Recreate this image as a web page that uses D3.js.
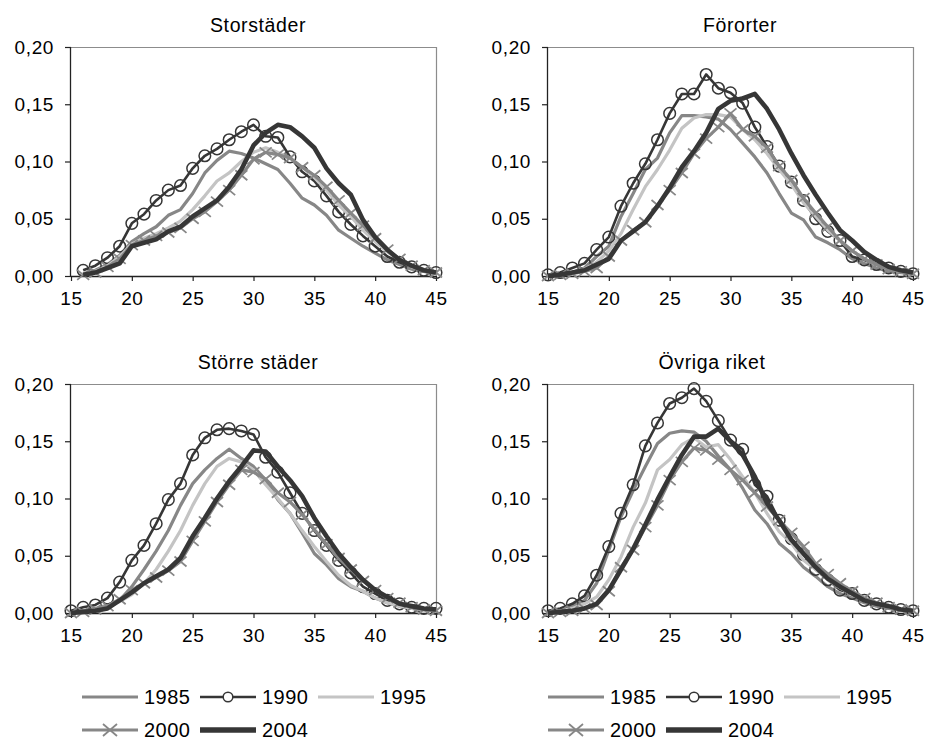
<!DOCTYPE html>
<html><head><meta charset="utf-8">
<script src="https://cdn.jsdelivr.net/npm/d3@7/dist/d3.min.js"></script>
<style>
body{margin:0;background:#fff;}
text{font-family:"Liberation Sans",Arial,sans-serif;fill:#000;}
</style>
</head><body>
<svg id="chart" width="925" height="740"></svg>
<script>
// ---------- DATA ----------
const ages = [15,16,17,18,19,20,21,22,23,24,25,26,27,28,29,30,31,32,33,34,35,36,37,38,39,40,41,42,43,44,45];
const years = ["1985","1990","1995","2000","2004"];
const panelTitles = ["Storstäder","Förorter","Större städer","Övriga riket"];
const xTicks = [15,20,25,30,35,40,45];
const yTicks = [0,0.05,0.10,0.15,0.20];

// Storstäder (no value at 15)
const sto1985 = [null,0.002,0.005,0.010,0.018,0.030,0.037,0.043,0.053,0.058,0.072,0.090,0.101,0.109,0.107,0.103,0.098,0.093,0.081,0.068,0.062,0.053,0.040,0.033,0.026,0.020,0.014,0.010,0.006,0.004,0.002];
const sto1990 = [null,0.005,0.009,0.016,0.026,0.046,0.054,0.066,0.075,0.079,0.094,0.105,0.111,0.119,0.126,0.132,0.122,0.121,0.104,0.091,0.083,0.070,0.056,0.045,0.035,0.026,0.017,0.012,0.008,0.005,0.003];
const sto1995 = [null,0.002,0.004,0.009,0.017,0.028,0.033,0.037,0.042,0.048,0.058,0.070,0.083,0.090,0.100,0.108,0.112,0.108,0.103,0.095,0.086,0.075,0.062,0.052,0.040,0.030,0.021,0.014,0.008,0.005,0.003];
const sto2000 = [null,0.001,0.003,0.008,0.015,0.027,0.031,0.035,0.038,0.042,0.050,0.056,0.065,0.075,0.088,0.102,0.108,0.106,0.103,0.095,0.088,0.078,0.066,0.055,0.044,0.033,0.023,0.015,0.009,0.005,0.003];
const sto2004 = [null,0.001,0.003,0.007,0.011,0.026,0.029,0.032,0.039,0.043,0.052,0.059,0.066,0.078,0.093,0.114,0.125,0.132,0.130,0.122,0.112,0.094,0.081,0.071,0.049,0.034,0.023,0.014,0.009,0.005,0.003];

// Förorter
const for1985 = [0.000,0.001,0.003,0.007,0.017,0.026,0.052,0.072,0.093,0.103,0.125,0.140,0.140,0.139,0.137,0.128,0.116,0.104,0.090,0.072,0.055,0.049,0.034,0.029,0.023,0.015,0.011,0.007,0.004,0.003,0.002];
const for1990 = [0.001,0.003,0.007,0.011,0.023,0.034,0.061,0.081,0.098,0.119,0.142,0.159,0.159,0.176,0.164,0.160,0.151,0.130,0.113,0.096,0.082,0.066,0.050,0.039,0.031,0.017,0.014,0.010,0.007,0.004,0.002];
const for1995 = [0.000,0.001,0.003,0.006,0.012,0.022,0.037,0.058,0.078,0.093,0.110,0.129,0.138,0.141,0.141,0.139,0.128,0.119,0.107,0.093,0.080,0.064,0.052,0.040,0.031,0.022,0.015,0.010,0.006,0.004,0.002];
const for2000 = [0.000,0.001,0.002,0.004,0.007,0.017,0.031,0.040,0.047,0.062,0.075,0.090,0.107,0.120,0.130,0.142,0.128,0.122,0.112,0.096,0.084,0.068,0.055,0.043,0.031,0.022,0.015,0.010,0.006,0.004,0.002];
const for2004 = [0.000,0.001,0.003,0.005,0.010,0.015,0.031,0.039,0.047,0.061,0.077,0.095,0.109,0.125,0.146,0.153,0.155,0.159,0.146,0.128,0.107,0.088,0.071,0.055,0.040,0.031,0.021,0.014,0.008,0.005,0.003];

// Större städer
const sst1985 = [0.001,0.002,0.004,0.007,0.011,0.023,0.038,0.054,0.072,0.094,0.113,0.125,0.135,0.143,0.135,0.128,0.116,0.099,0.087,0.070,0.052,0.042,0.030,0.023,0.019,0.013,0.009,0.006,0.004,0.003,0.002];
const sst1990 = [0.002,0.005,0.007,0.013,0.027,0.046,0.059,0.078,0.099,0.113,0.138,0.153,0.160,0.161,0.159,0.156,0.136,0.123,0.105,0.087,0.072,0.059,0.046,0.035,0.023,0.017,0.011,0.008,0.005,0.004,0.004];
const sst1995 = [0.000,0.001,0.003,0.006,0.010,0.016,0.026,0.038,0.054,0.072,0.094,0.113,0.128,0.135,0.132,0.125,0.112,0.100,0.087,0.072,0.058,0.045,0.033,0.024,0.019,0.013,0.009,0.006,0.004,0.003,0.002];
const sst2000 = [0.000,0.001,0.003,0.006,0.012,0.020,0.026,0.031,0.037,0.045,0.063,0.080,0.097,0.112,0.125,0.123,0.117,0.105,0.097,0.086,0.073,0.060,0.048,0.038,0.028,0.020,0.013,0.009,0.005,0.003,0.002];
const sst2004 = [0.000,0.001,0.002,0.004,0.011,0.018,0.026,0.032,0.038,0.048,0.067,0.083,0.100,0.115,0.128,0.142,0.141,0.128,0.116,0.102,0.083,0.067,0.052,0.040,0.029,0.020,0.014,0.008,0.006,0.004,0.003];

// Övriga riket
const ovr1985 = [0.001,0.003,0.006,0.011,0.026,0.055,0.084,0.107,0.128,0.148,0.157,0.159,0.158,0.150,0.137,0.125,0.109,0.090,0.078,0.061,0.052,0.040,0.032,0.023,0.017,0.013,0.009,0.006,0.004,0.003,0.002];
const ovr1990 = [0.002,0.004,0.008,0.015,0.033,0.058,0.087,0.112,0.146,0.166,0.183,0.188,0.196,0.185,0.168,0.151,0.143,0.112,0.102,0.081,0.065,0.051,0.038,0.029,0.020,0.017,0.011,0.008,0.005,0.003,0.002];
const ovr1995 = [0.000,0.002,0.004,0.008,0.014,0.029,0.049,0.075,0.096,0.125,0.134,0.147,0.153,0.145,0.147,0.134,0.119,0.105,0.087,0.071,0.061,0.046,0.038,0.029,0.022,0.016,0.011,0.008,0.005,0.003,0.002];
const ovr2000 = [0.000,0.001,0.002,0.004,0.007,0.019,0.040,0.055,0.075,0.094,0.116,0.132,0.144,0.142,0.134,0.125,0.116,0.105,0.093,0.081,0.070,0.058,0.043,0.034,0.026,0.019,0.013,0.009,0.005,0.003,0.002];
const ovr2004 = [0.000,0.001,0.002,0.004,0.008,0.020,0.038,0.056,0.077,0.099,0.119,0.138,0.154,0.154,0.161,0.150,0.138,0.119,0.096,0.081,0.064,0.052,0.040,0.030,0.023,0.017,0.011,0.008,0.006,0.003,0.002];

// ---------- TABLE ----------
const panelSeries = [
  [sto1985,sto1990,sto1995,sto2000,sto2004],
  [for1985,for1990,for1995,for2000,for2004],
  [sst1985,sst1990,sst1995,sst2000,sst2004],
  [ovr1985,ovr1990,ovr1995,ovr2000,ovr2004]
];

// ---------- STYLE / LAYOUT ----------
const styles = {
  "1985": {color:"#878787", width:3.2, marker:null},
  "1990": {color:"#363636", width:2.6, marker:"circle"},
  "1995": {color:"#c4c4c4", width:3.2, marker:null},
  "2000": {color:"#878787", width:3.2, marker:"x"},
  "2004": {color:"#363636", width:4.6, marker:null}
};
const layout = [
  {left:71,  top:47,  titleX:258},
  {left:548, top:47,  titleX:740},
  {left:71,  top:384, titleX:258},
  {left:548, top:384, titleX:712}
];
const PW = 365, PH = 229;
const fmt = v => d3.format(".2f")(v).replace(".", ",");
const xPath = "M-6,-5L6,5M-6,5L6,-5";

const svg = d3.select("#chart");

panelSeries.forEach((seriesList, pi) => {
  const L = layout[pi];
  const g = svg.append("g").attr("transform", `translate(${L.left},${L.top})`);
  const x = d3.scaleLinear().domain([15,45]).range([0,PW]);
  const y = d3.scaleLinear().domain([0,0.20]).range([PH,0]);

  g.append("path").attr("d", `M0,0.5H${PW}.5V${PH}`).attr("fill","none").attr("stroke","#8c8c8c").attr("stroke-width",1.2);

  const ya = g.append("g").call(d3.axisLeft(y).tickValues(yTicks).tickFormat(fmt).tickSize(6).tickPadding(11));
  ya.select(".domain").attr("stroke","#222").attr("stroke-width",1.3).attr("d",`M-0.5,${PH}V0`);
  ya.selectAll(".tick line").attr("stroke","#222").attr("stroke-width",1.2);
  ya.selectAll(".tick text").style("font-size","19px").style("letter-spacing","0.6px").attr("fill","#000");

  const xa = g.append("g").attr("transform",`translate(0,${PH})`)
    .call(d3.axisBottom(x).tickValues(xTicks).tickFormat(d3.format("d")).tickSize(5).tickPadding(11));
  xa.select(".domain").attr("stroke","#222").attr("stroke-width",1.3).attr("d",`M0,0.5H${PW}`);
  xa.selectAll(".tick line").attr("stroke","#222").attr("stroke-width",1.2);
  xa.selectAll(".tick text").style("font-size","19px").style("letter-spacing","0.6px").attr("fill","#000");

  svg.append("text").attr("x", L.titleX).attr("y", L.top - 15)
    .attr("text-anchor","middle").style("font-size","19.5px").style("letter-spacing","0.6px").text(panelTitles[pi]);

  seriesList.forEach((vals, si) => {
    const st = styles[years[si]];
    const pts = ages.map((a,i)=>({a, v: vals[i]}));
    const line = d3.line().defined(d=>d.v!=null).x(d=>x(d.a)).y(d=>y(d.v));
    g.append("path").datum(pts).attr("d", line).attr("fill","none")
      .attr("stroke", st.color).attr("stroke-width", st.width).attr("stroke-linejoin","round");
    const def = pts.filter(d=>d.v!=null);
    if (st.marker === "circle") {
      g.selectAll(null).data(def).enter().append("circle")
        .attr("cx", d=>x(d.a)).attr("cy", d=>y(d.v)).attr("r",5.8)
        .attr("fill","none").attr("stroke", st.color).attr("stroke-width",1.5);
    } else if (st.marker === "x") {
      g.selectAll(null).data(def).enter().append("path")
        .attr("transform", d=>`translate(${x(d.a)},${y(d.v)})`).attr("d", xPath)
        .attr("fill","none").attr("stroke", st.color).attr("stroke-width",1.8);
    }
  });
});

// ---------- LEGENDS ----------
const legendRows = [[0,1,2],[3,4]];
[82, 548].forEach(x0 => {
  const lg = svg.append("g");
  legendRows.forEach((row, ri) => {
    const cy = 697 + ri*33;
    row.forEach((si, ci) => {
      const st = styles[years[si]];
      const lx = x0 + ci*118;
      lg.append("line").attr("x1",lx).attr("x2",lx+56).attr("y1",cy).attr("y2",cy)
        .attr("stroke",st.color).attr("stroke-width", st.width + (years[si]==="2004"?0.8:0));
      if (st.marker === "circle") {
        lg.append("circle").attr("cx",lx+28).attr("cy",cy).attr("r",4.8)
          .attr("fill","#fff").attr("stroke",st.color).attr("stroke-width",1.5);
      } else if (st.marker === "x") {
        lg.append("path").attr("transform",`translate(${lx+28},${cy})`).attr("d","M-7,-6L7,6M-7,6L7,-6")
          .attr("fill","none").attr("stroke",st.color).attr("stroke-width",1.8);
      }
      lg.append("text").attr("x",lx+62).attr("y",cy+7).style("font-size","20px").style("letter-spacing","0.5px").text(years[si]);
    });
  });
});
</script>
</body></html>
